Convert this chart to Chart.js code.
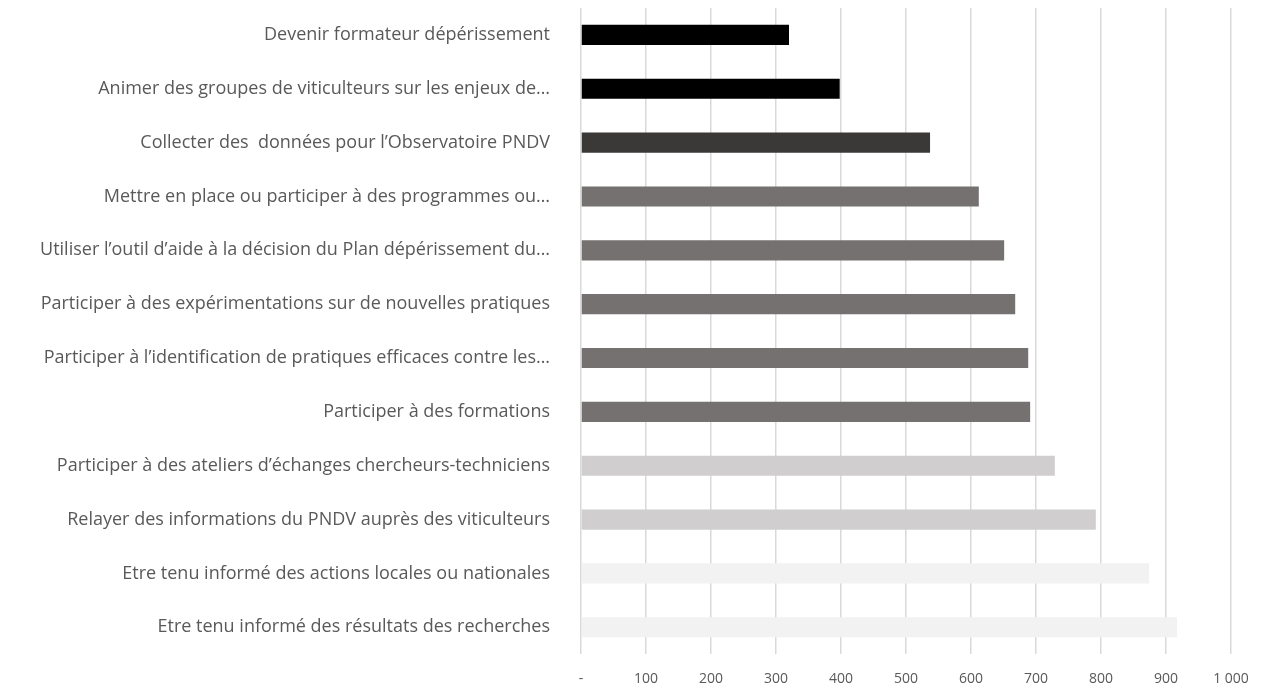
<!DOCTYPE html>
<html>
<head>
<meta charset="utf-8">
<script src="https://cdn.jsdelivr.net/npm/chart.js@4"></script>
<style>
  body { margin: 0; background: #fff; }
  #wrap { width: 1261px; height: 691px; }
</style>
</head>
<body>
<div id="wrap"><canvas id="actions-chart"></canvas></div>
<script>
var categories = [
    'Devenir formateur dépérissement',
    'Animer des groupes de viticulteurs sur les enjeux de…',
    'Collecter des  données pour l’Observatoire PNDV',
    'Mettre en place ou participer à des programmes ou…',
    'Utiliser l’outil d’aide à la décision du Plan dépérissement du…',
    'Participer à des expérimentations sur de nouvelles pratiques',
    'Participer à l’identification de pratiques efficaces contre les…',
    'Participer à des formations',
    'Participer à des ateliers d’échanges chercheurs-techniciens',
    'Relayer des informations du PNDV auprès des viticulteurs',
    'Etre tenu informé des actions locales ou nationales',
    'Etre tenu informé des résultats des recherches'
];
var counts = [320, 398, 537, 612, 651, 668, 688, 691, 729, 792, 874, 917];
var barColors = [
    '#000000', '#000000', '#3b3938', '#767171', '#767171', '#767171',
    '#767171', '#767171', '#d0cece', '#d0cece', '#f2f2f2', '#f2f2f2'
];
var tickLabels = ['-', '100', '200', '300', '400', '500', '600', '700', '800', '900', '1 000'];

var config = {
    type: 'bar',
    data: {
        labels: categories,
        datasets: [{
            data: counts,
            backgroundColor: barColors,
            barPercentage: 0.75,
            categoryPercentage: 0.5
        }]
    },
    options: {
        indexAxis: 'y',
        responsive: true,
        maintainAspectRatio: false,
        animation: false,
        layout: { padding: { top: 8, right: 30, bottom: -12, left: 0 } },
        plugins: {
            legend: { display: false },
            tooltip: { enabled: false }
        },
        scales: {
            x: {
                min: 0,
                max: 1000,
                afterFit: function (axis) {
                    axis.paddingRight = 0;
                },
                ticks: {
                    stepSize: 100,
                    color: '#595959',
                    font: { family: 'Open Sans', size: 14 },
                    padding: 16,
                    callback: function (value) {
                        return tickLabels[Math.round(value / 100)];
                    }
                },
                grid: { color: '#d9d9d9', lineWidth: 1.5, drawTicks: false },
                border: { display: false }
            },
            y: {
                afterFit: function (axis) {
                    axis.width = 581;
                    axis.paddingTop = 0;
                    axis.paddingBottom = 0;
                },
                ticks: {
                    color: '#595959',
                    font: { family: 'Open Sans', size: 18 },
                    padding: 23
                },
                grid: { display: false },
                border: { display: false }
            }
        }
    }
};

window.onload = function () {
    var ctx = document.getElementById('actions-chart').getContext('2d');
    window.actionsChart = new Chart(ctx, config);
};
</script>
</body>
</html>
